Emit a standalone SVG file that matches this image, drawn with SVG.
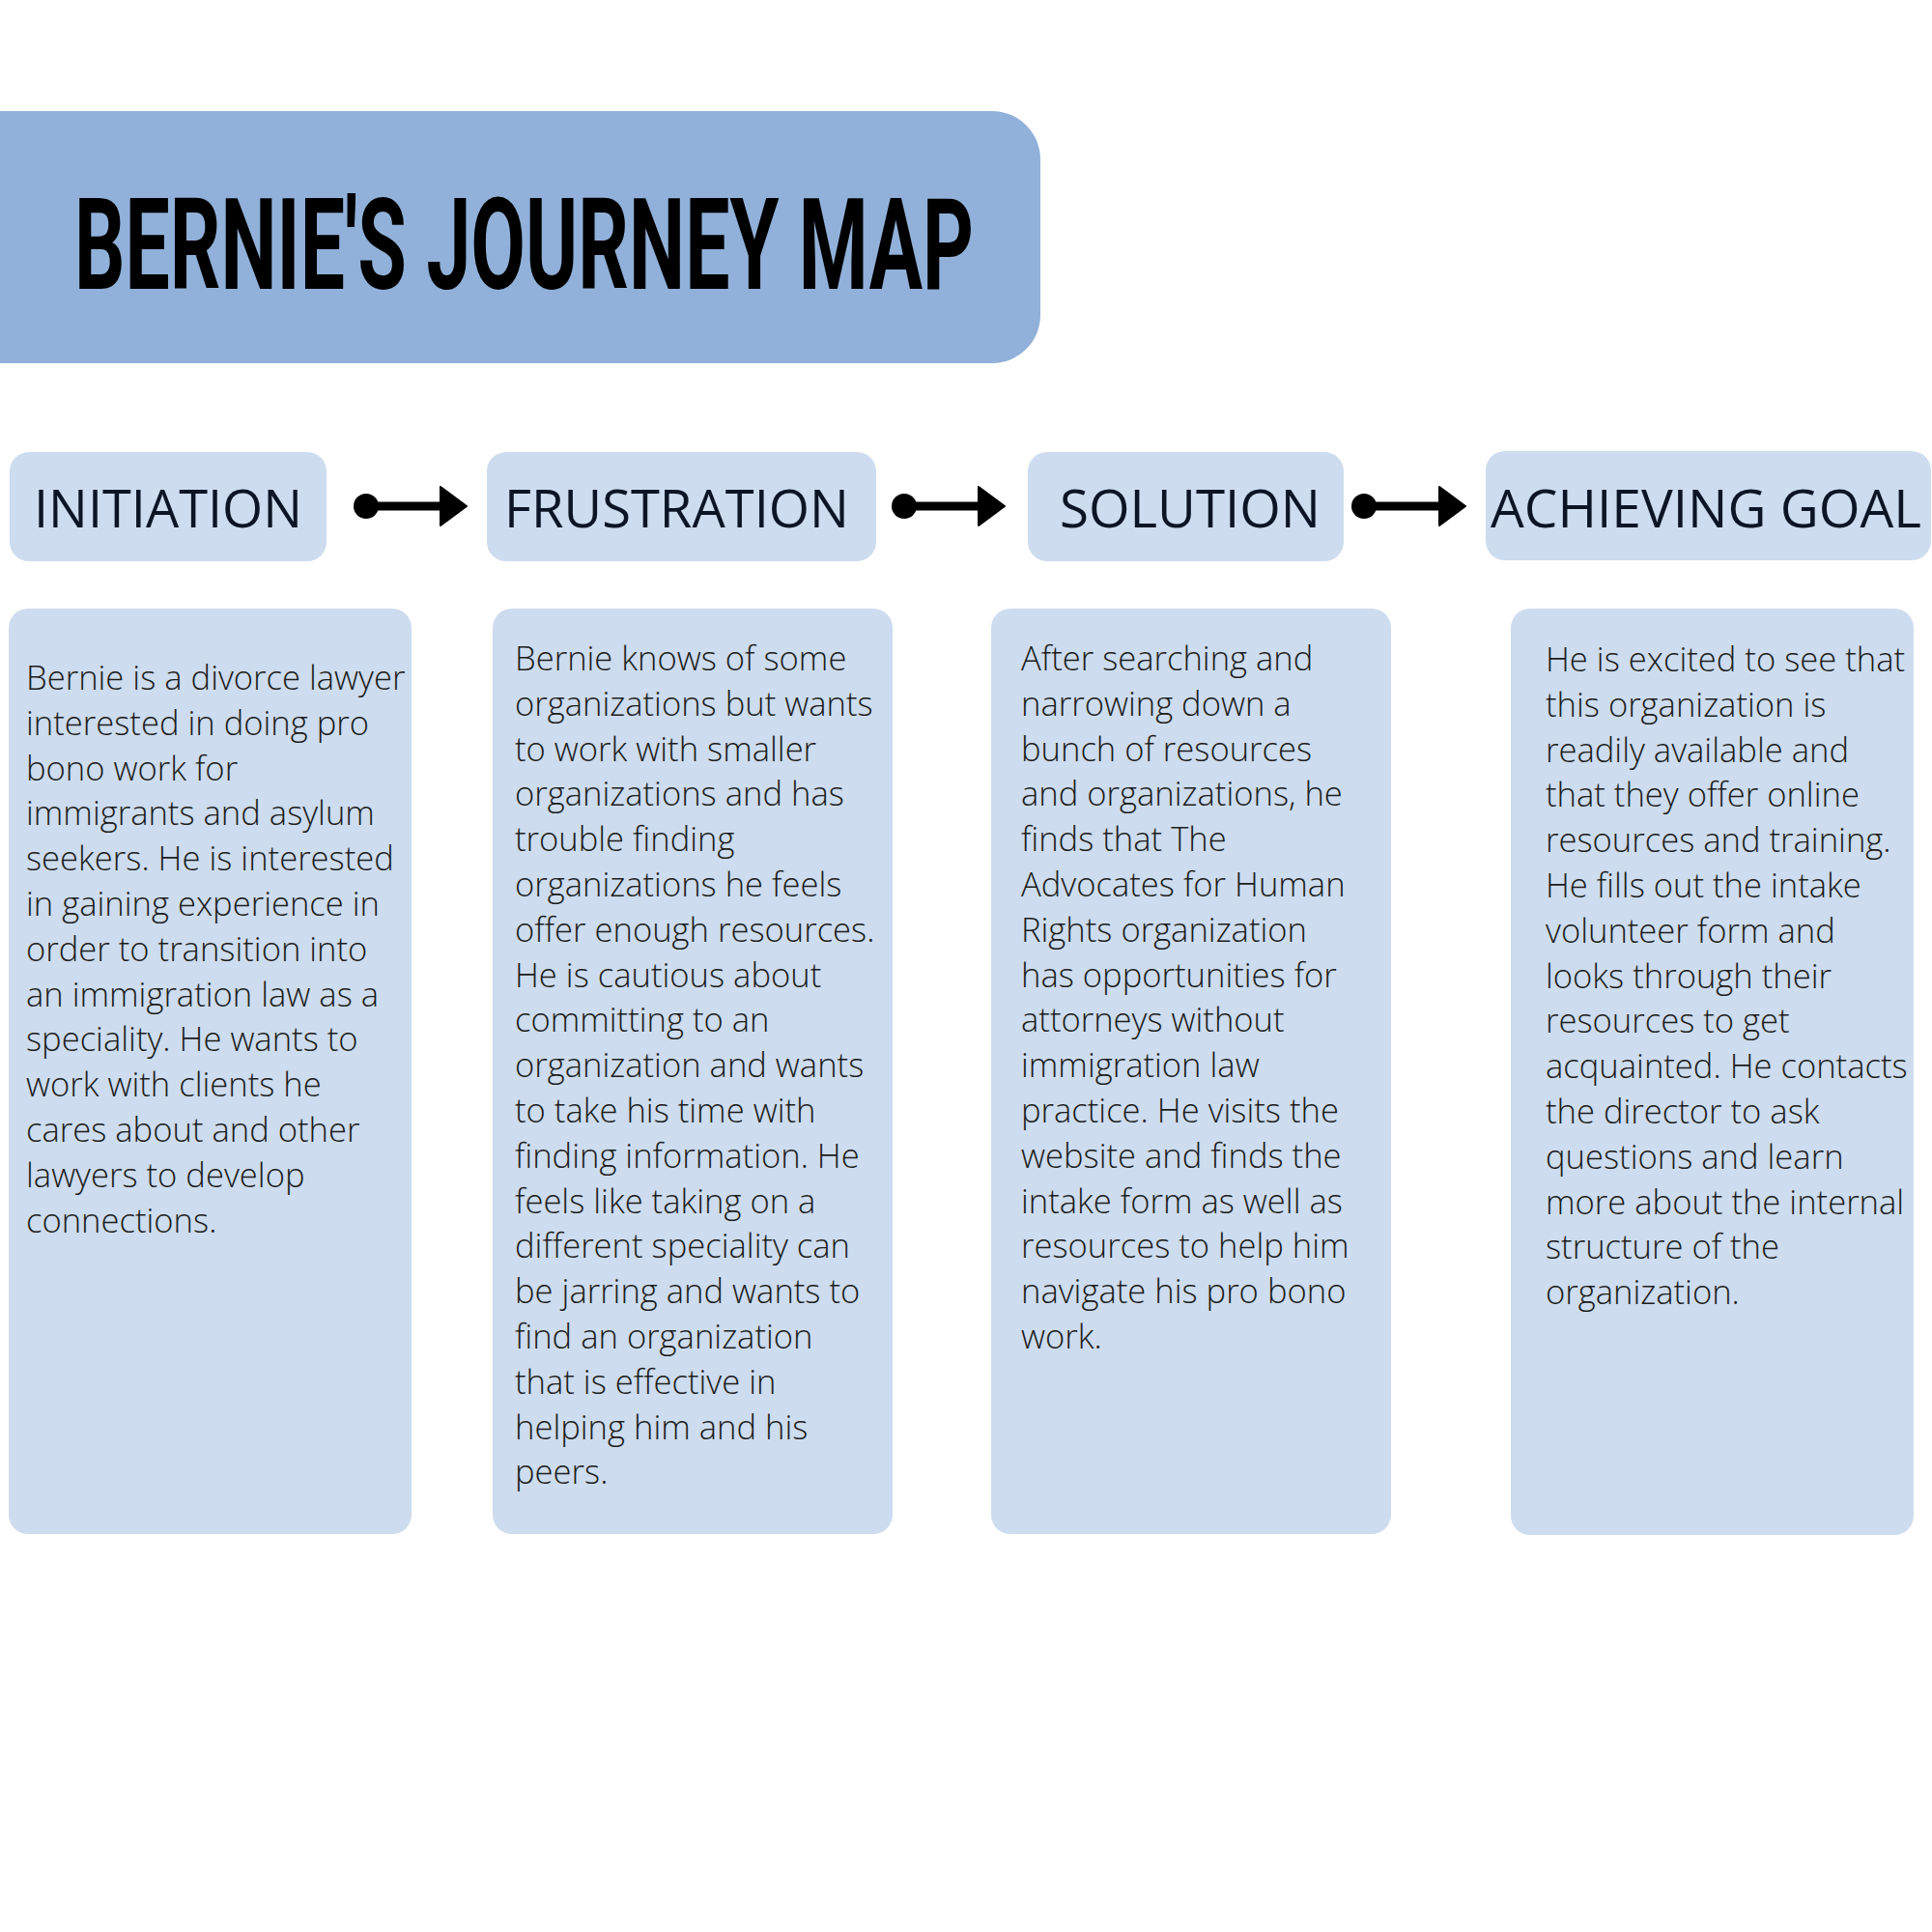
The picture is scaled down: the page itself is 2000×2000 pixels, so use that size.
<svg xmlns="http://www.w3.org/2000/svg" width="2000" height="2000" viewBox="0 0 2000 2000">
<defs>
<style>
.title{font-family:Roboto,"Liberation Sans",sans-serif;font-weight:700;font-size:132px;fill:#000}
.head{fill:#cddcee}
.htxt{font-family:"Open Sans","Liberation Sans",sans-serif;font-size:55px;fill:#0b1525}
.card{fill:#cddcee}
.body{font-family:"Open Sans","Liberation Sans",sans-serif;font-weight:300;font-size:34.6px;fill:#1c1c1c}
.conn{stroke:#000;stroke-width:9;fill:none}
</style>
</defs>
<rect width="2000" height="2000" fill="#fff"/>
<g id="title">
<path d="M0 115 H1027 A50 50 0 0 1 1077 165 V326 A50 50 0 0 1 1027 376 H0 Z" fill="#91b1da"/>
<text class="title" x="77" y="299" textLength="931" lengthAdjust="spacingAndGlyphs">BERNIE'S JOURNEY MAP</text>
</g>
<g id="connectors">
<g id="arrow1">
<circle cx="379" cy="524" r="13"/>
<line class="conn" x1="379" y1="524" x2="460" y2="524"/>
<path d="M456 504 L483 524 L456 544 Z" stroke="#000" stroke-width="2" stroke-linejoin="round"/>
</g>
<g id="arrow2">
<circle cx="936" cy="524" r="13"/>
<line class="conn" x1="936" y1="524" x2="1017" y2="524"/>
<path d="M1013 504 L1040 524 L1013 544 Z" stroke="#000" stroke-width="2" stroke-linejoin="round"/>
</g>
<g id="arrow3">
<circle cx="1412" cy="524" r="13"/>
<line class="conn" x1="1412" y1="524" x2="1494" y2="524"/>
<path d="M1490 504 L1517 524 L1490 544 Z" stroke="#000" stroke-width="2" stroke-linejoin="round"/>
</g>
</g>
<g id="initiation">
<rect class="head" x="10" y="468" width="328" height="113" rx="20"/>
<text class="htxt" x="35" y="546" textLength="278" lengthAdjust="spacingAndGlyphs">INITIATION</text>
</g>
<g id="frustration">
<rect class="head" x="504" y="468" width="403" height="113" rx="20"/>
<text class="htxt" x="522" y="546" textLength="357" lengthAdjust="spacingAndGlyphs">FRUSTRATION</text>
</g>
<g id="solution">
<rect class="head" x="1064" y="468" width="327" height="113" rx="20"/>
<text class="htxt" x="1097" y="546" textLength="270" lengthAdjust="spacingAndGlyphs">SOLUTION</text>
</g>
<g id="achieving-goal">
<rect class="head" x="1538" y="467" width="461" height="113" rx="20"/>
<text class="htxt" x="1543" y="546" textLength="446" lengthAdjust="spacingAndGlyphs">ACHIEVING GOAL</text>
</g>
<g id="card1">
<rect class="card" x="9" y="630" width="417" height="958" rx="20"/>
<text class="body" x="27" y="714">
<tspan x="27">Bernie is a divorce lawyer</tspan>
<tspan x="27" dy="46.8">interested in doing pro</tspan>
<tspan x="27" dy="46.8">bono work for</tspan>
<tspan x="27" dy="46.8">immigrants and asylum</tspan>
<tspan x="27" dy="46.8">seekers. He is interested</tspan>
<tspan x="27" dy="46.8">in gaining experience in</tspan>
<tspan x="27" dy="46.8">order to transition into</tspan>
<tspan x="27" dy="46.8">an immigration law as a</tspan>
<tspan x="27" dy="46.8">speciality. He wants to</tspan>
<tspan x="27" dy="46.8">work with clients he</tspan>
<tspan x="27" dy="46.8">cares about and other</tspan>
<tspan x="27" dy="46.8">lawyers to develop</tspan>
<tspan x="27" dy="46.8">connections.</tspan>
</text>
</g>
<g id="card2">
<rect class="card" x="510" y="630" width="414" height="958" rx="20"/>
<text class="body" x="533" y="694">
<tspan x="533">Bernie knows of some</tspan>
<tspan x="533" dy="46.8">organizations but wants</tspan>
<tspan x="533" dy="46.8">to work with smaller</tspan>
<tspan x="533" dy="46.8">organizations and has</tspan>
<tspan x="533" dy="46.8">trouble finding</tspan>
<tspan x="533" dy="46.8">organizations he feels</tspan>
<tspan x="533" dy="46.8">offer enough resources.</tspan>
<tspan x="533" dy="46.8">He is cautious about</tspan>
<tspan x="533" dy="46.8">committing to an</tspan>
<tspan x="533" dy="46.8">organization and wants</tspan>
<tspan x="533" dy="46.8">to take his time with</tspan>
<tspan x="533" dy="46.8">finding information. He</tspan>
<tspan x="533" dy="46.8">feels like taking on a</tspan>
<tspan x="533" dy="46.8">different speciality can</tspan>
<tspan x="533" dy="46.8">be jarring and wants to</tspan>
<tspan x="533" dy="46.8">find an organization</tspan>
<tspan x="533" dy="46.8">that is effective in</tspan>
<tspan x="533" dy="46.8">helping him and his</tspan>
<tspan x="533" dy="46.8">peers.</tspan>
</text>
</g>
<g id="card3">
<rect class="card" x="1026" y="630" width="414" height="958" rx="20"/>
<text class="body" x="1057" y="694">
<tspan x="1057">After searching and</tspan>
<tspan x="1057" dy="46.8">narrowing down a</tspan>
<tspan x="1057" dy="46.8">bunch of resources</tspan>
<tspan x="1057" dy="46.8">and organizations, he</tspan>
<tspan x="1057" dy="46.8">finds that The</tspan>
<tspan x="1057" dy="46.8">Advocates for Human</tspan>
<tspan x="1057" dy="46.8">Rights organization</tspan>
<tspan x="1057" dy="46.8">has opportunities for</tspan>
<tspan x="1057" dy="46.8">attorneys without</tspan>
<tspan x="1057" dy="46.8">immigration law</tspan>
<tspan x="1057" dy="46.8">practice. He visits the</tspan>
<tspan x="1057" dy="46.8">website and finds the</tspan>
<tspan x="1057" dy="46.8">intake form as well as</tspan>
<tspan x="1057" dy="46.8">resources to help him</tspan>
<tspan x="1057" dy="46.8">navigate his pro bono</tspan>
<tspan x="1057" dy="46.8">work.</tspan>
</text>
</g>
<g id="card4">
<rect class="card" x="1564" y="630" width="417" height="959" rx="20"/>
<text class="body" x="1600" y="695">
<tspan x="1600">He is excited to see that</tspan>
<tspan x="1600" dy="46.8">this organization is</tspan>
<tspan x="1600" dy="46.8">readily available and</tspan>
<tspan x="1600" dy="46.8">that they offer online</tspan>
<tspan x="1600" dy="46.8">resources and training.</tspan>
<tspan x="1600" dy="46.8">He fills out the intake</tspan>
<tspan x="1600" dy="46.8">volunteer form and</tspan>
<tspan x="1600" dy="46.8">looks through their</tspan>
<tspan x="1600" dy="46.8">resources to get</tspan>
<tspan x="1600" dy="46.8">acquainted. He contacts</tspan>
<tspan x="1600" dy="46.8">the director to ask</tspan>
<tspan x="1600" dy="46.8">questions and learn</tspan>
<tspan x="1600" dy="46.8">more about the internal</tspan>
<tspan x="1600" dy="46.8">structure of the</tspan>
<tspan x="1600" dy="46.8">organization.</tspan>
</text>
</g>
</svg>
